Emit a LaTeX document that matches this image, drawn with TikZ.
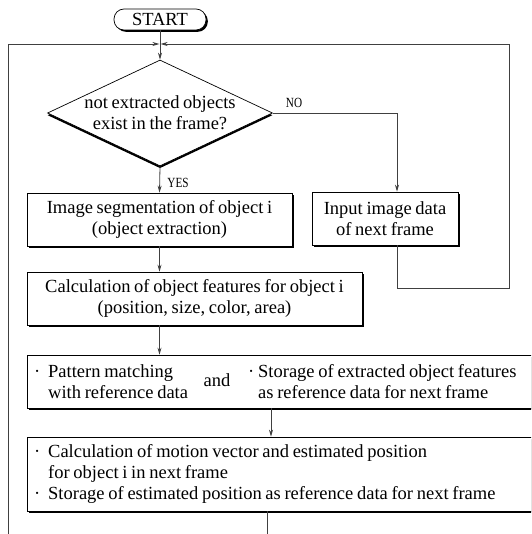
\documentclass[tikz,border=0pt]{standalone}
\usepackage{fontspec}
\setmainfont{Liberation Serif}[WordSpace=0.8]
\usetikzlibrary{arrows.meta,shapes.geometric,shadows}
\newcommand{\bul}{\makebox[14pt][l]{\textperiodcentered}}
\begin{document}
\begin{tikzpicture}[x=1pt,y=-1pt,
  every node/.style={font=\fontsize{18.5}{21}\selectfont},
  box/.style={draw, fill=white, line width=0.7pt, inner sep=0pt,
    drop shadow={shadow xshift=1.8pt, shadow yshift=-1.8pt, opacity=1, fill=black}},
  dbox/.style={draw, fill=white, line width=0.7pt, shape=diamond, aspect=2.12,
    inner xsep=-6pt, inner ysep=0pt, minimum width=225pt, minimum height=106pt,
    drop shadow={shadow xshift=0pt, shadow yshift=-2.2pt, opacity=1, fill=black}},
  txt/.style={inner sep=0pt, align=left, anchor=west},
  conn/.style={line width=0.8pt, draw=black!75},
  arr/.style={conn, -{Stealth[length=7pt,width=4pt]}},
  lbl/.style={font=\fontsize{14}{16}\selectfont, inner sep=0pt}]
\useasboundingbox (0,0) rectangle (531,534);
\clip (0,0) rectangle (531,534);

% nodes
\node[box, rounded corners=10pt, minimum width=92pt, minimum height=21pt] (start) at (160,19.5) {START};
\node[dbox, align=center] (dec) at (160,113) {not extracted objects\\exist in the frame?};
\node[box, minimum width=265pt, minimum height=53pt, align=center] (seg) at (159.5,219.5) {Image segmentation of object i\\(object extraction)};
\node[box, minimum width=146pt, minimum height=53pt, align=center] (inp) at (385,218.5) {Input image data\\of next frame};
\node[box, minimum width=335pt, minimum height=53pt, align=center] (calc) at (194.5,298.5) {Calculation of object features for object i\\(position, size, color, area)};
\node[box, minimum width=518pt, minimum height=53pt] (b3) at (286,381.5) {};
\node[txt] (b3l) at (34,381.5) {\bul Pattern matching\\\hspace*{14pt}with reference data};
\node[inner sep=0pt] (b3and) at (217,380) {and};
\node[txt] (b3r) at (248,381.5) {\makebox[10pt][l]{\textperiodcentered}Storage of extracted object features\\\hspace*{10pt}as reference data for next frame};
\node[box, minimum width=518pt, minimum height=74pt] (b4) at (286,474) {};
\node[txt] (b4t) at (34,474) {\bul Calculation of motion vector and estimated position\\\hspace*{14pt}for object i in next frame\\\bul Storage of estimated position as reference data for next frame};

\node[lbl] (no) at (294,103) {\scalebox{0.8}[1]{NO}};
\node[lbl] (yes) at (178,183) {\scalebox{0.8}[1]{YES}};

% coordinates
\coordinate (m) at (160,44);
\coordinate (lb) at (8,534);
\coordinate (rc) at (509,288);
\coordinate (bot) at (267,534);

% connectors
\draw[arr] (start.south) -- (dec.north);
\draw[arr] (lb) |- ([xshift=-0.6pt]m);
\draw[arr] ([xshift=12pt]inp.south) |- (rc) |- ([xshift=0.6pt]m);
\draw[arr] (dec.east) -| ([xshift=12pt]inp.north);
\draw[arr] (dec.south) -- (seg.north);
\draw[arr] (seg.south) -- (seg.south |- calc.north);
\draw[arr] (seg.south |- calc.south) -- (seg.south |- b3.north);
\draw[arr] ([xshift=-15pt]b3.south) -- ([xshift=-15pt]b4.north);
\draw[conn] ([xshift=-19pt]b4.south) -- (bot);
\end{tikzpicture}
\end{document}
